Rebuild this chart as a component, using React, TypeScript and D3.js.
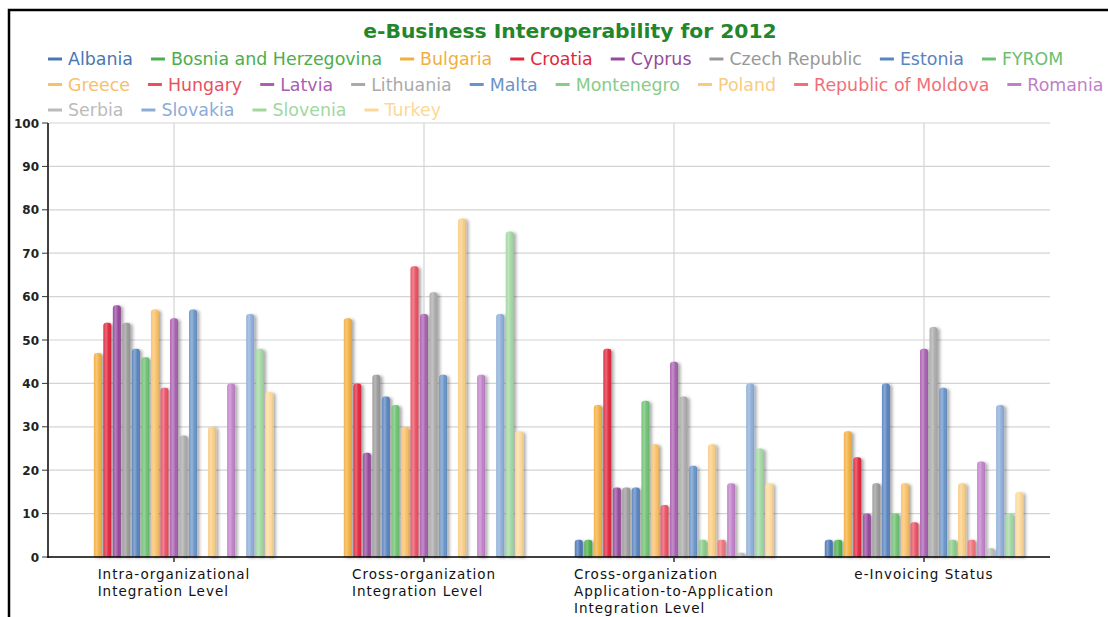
import React, { useEffect, useRef } from "react";
import * as d3 from "d3";

const title = "e-Business Interoperability for 2012";
const categories = [
  ["Intra-organizational", "Integration Level"],
  ["Cross-organization", "Integration Level"],
  ["Cross-organization", "Application-to-Application", "Integration Level"],
  ["e-Invoicing Status"],
];
const countries = [
  "Albania", "Bosnia and Herzegovina", "Bulgaria", "Croatia", "Cyprus", "Czech Republic", "Estonia", "FYROM",
  "Greece", "Hungary", "Latvia", "Lithuania", "Malta", "Montenegro", "Poland", "Republic of Moldova", "Romania",
  "Serbia", "Slovakia", "Slovenia", "Turkey",
];
const colors = [
  "#4a76b4", "#4cae4c", "#f3ae3e", "#e0283a", "#964a9c", "#999999", "#5884c0", "#6cc070",
  "#f8c068", "#e85060", "#a860b0", "#aaaaaa", "#6a94c8", "#88cc88", "#f8cc80", "#f07078", "#c080c8",
  "#bbbbbb", "#8cacd8", "#a0d8a0", "#fcd898",
];
// values per category, in country order (null = no bar)
const intraOrg = [null, null, 47, 54, 58, 54, 48, 46, 57, 39, 55, 28, 57, null, 30, null, 40, null, 56, 48, 38];
const crossOrg = [null, null, 55, 40, 24, 42, 37, 35, 30, 67, 56, 61, 42, null, 78, null, 42, null, 56, 75, 29];
const crossApp = [4, 4, 35, 48, 16, 16, 16, 36, 26, 12, 45, 37, 21, 4, 26, 4, 17, 1, 40, 25, 17];
const eInvoicing = [4, 4, 29, 23, 10, 17, 40, 10, 17, 8, 48, 53, 39, 4, 17, 4, 22, 2, 35, 10, 15];
const seriesByCategory = [intraOrg, crossOrg, crossApp, eInvoicing];
const yTicks = [0, 10, 20, 30, 40, 50, 60, 70, 80, 90, 100];
const legendRowBreaks = [8, 17];

export default function App() {
  const ref = useRef<SVGSVGElement>(null);
  useEffect(() => {
    const svg = d3.select(ref.current);
    svg.selectAll("*").remove();
    const W = 1108, H = 617;
    const left = 49, right = 1049, top = 123, bottom = 557;

    const defs = svg.append("defs");
    const f = defs.append("filter").attr("id", "sh").attr("x", "-50%").attr("y", "-10%").attr("width", "250%").attr("height", "120%");
    f.append("feDropShadow").attr("dx", 2.5).attr("dy", 1).attr("stdDeviation", 1.8).attr("flood-color", "#000").attr("flood-opacity", 0.33);
    const g = defs.append("linearGradient").attr("id", "gl").attr("x1", 0).attr("x2", 1).attr("y1", 0).attr("y2", 0);
    g.append("stop").attr("offset", "0").attr("stop-color", "#fff").attr("stop-opacity", 0.05);
    g.append("stop").attr("offset", "0.35").attr("stop-color", "#fff").attr("stop-opacity", 0.3);
    g.append("stop").attr("offset", "0.7").attr("stop-color", "#fff").attr("stop-opacity", 0);
    g.append("stop").attr("offset", "1").attr("stop-color", "#000").attr("stop-opacity", 0.12);

    svg.append("rect").attr("width", W).attr("height", H).attr("fill", "#fff");
    // frame
    svg.append("rect").attr("x", 9).attr("y", 10).attr("width", 1200).attr("height", 800)
      .attr("fill", "none").attr("stroke", "#000").attr("stroke-width", 2.5);

    const x0 = d3.scaleBand<number>().domain(d3.range(categories.length)).range([left, right]).paddingInner(0.2).paddingOuter(0.1);
    const x1 = d3.scaleBand<number>().domain(d3.range(countries.length)).range([0, x0.bandwidth()]);
    const y = d3.scaleLinear().domain([0, 100]).range([bottom, top]);

    // grid
    svg.append("g").selectAll("line").data(yTicks.filter((t) => t > 0)).join("line")
      .attr("x1", left).attr("x2", right + 1).attr("y1", (d) => y(d)).attr("y2", (d) => y(d))
      .attr("stroke", "#d4d4d4").attr("stroke-width", 1.2);
    svg.append("g").selectAll("line").data(d3.range(categories.length)).join("line")
      .attr("x1", (d) => x0(d)! + x0.bandwidth() / 2).attr("x2", (d) => x0(d)! + x0.bandwidth() / 2)
      .attr("y1", top).attr("y2", bottom).attr("stroke", "#d4d4d4").attr("stroke-width", 1.2);

    // bars
    const bw = 8, r = 3;
    const barPath = (x: number, yt: number) => {
      const h = bottom - yt;
      const rr = Math.min(r, h / 2);
      return `M${x},${bottom}V${yt + rr}Q${x},${yt} ${x + rr},${yt}H${x + bw - rr}Q${x + bw},${yt} ${x + bw},${yt + rr}V${bottom}Z`;
    };
    const barData: { c: number; s: number; v: number }[] = [];
    seriesByCategory.forEach((arr, c) => arr.forEach((v, s) => { if (v != null && v > 0) barData.push({ c, s, v }); }));
    const bars = svg.append("g");
    const bx = (d: { c: number; s: number }) => x0(d.c)! + x1(d.s)! + (x1.bandwidth() - bw) / 2;
    bars.selectAll("path.b").data(barData).join("path").attr("class", "b")
      .attr("d", (d) => barPath(bx(d), y(d.v))).attr("fill", (d) => colors[d.s]).attr("filter", "url(#sh)");
    bars.selectAll("path.o").data(barData).join("path").attr("class", "o")
      .attr("d", (d) => barPath(bx(d), y(d.v))).attr("fill", "url(#gl)");

    // axes
    svg.append("line").attr("x1", 48).attr("x2", 48).attr("y1", top).attr("y2", bottom + 1).attr("stroke", "#000").attr("stroke-width", 1.5);
    svg.append("line").attr("x1", 47).attr("x2", right + 1).attr("y1", bottom).attr("y2", bottom).attr("stroke", "#000").attr("stroke-width", 1.5);
    const yt = svg.append("g");
    yt.selectAll("line").data(yTicks).join("line").attr("x1", 42).attr("x2", 48)
      .attr("y1", (d) => y(d)).attr("y2", (d) => y(d)).attr("stroke", "#333");
    yt.selectAll("text").data(yTicks).join("text").attr("x", 39).attr("y", (d) => y(d) + 4.5)
      .attr("text-anchor", "end").attr("font-family", "DejaVu Sans").attr("font-weight", "bold").attr("font-size", 12)
      .attr("fill", "#222").text((d) => String(d));
    svg.append("g").selectAll("line").data(d3.range(categories.length)).join("line")
      .attr("x1", (d) => x0(d)! + x0.bandwidth() / 2).attr("x2", (d) => x0(d)! + x0.bandwidth() / 2)
      .attr("y1", bottom).attr("y2", bottom + 5).attr("stroke", "#333").attr("stroke-width", 1.5);

    // category labels
    categories.forEach((lines, c) => {
      const cx = x0(c)! + x0.bandwidth() / 2;
      const gg = svg.append("g");
      const texts = gg.selectAll("text").data(lines).join("text")
        .attr("y", (_d, i) => 579 + i * 17).attr("font-family", "DejaVu Sans").attr("font-size", 13.5)
        .attr("letter-spacing", 1.0).attr("fill", "#111").text((d) => d);
      let maxW = 0;
      texts.each(function () { maxW = Math.max(maxW, (this as SVGTextElement).getComputedTextLength()); });
      texts.attr("x", cx - maxW / 2);
    });

    // title
    svg.append("text").attr("x", 570).attr("y", 38).attr("text-anchor", "middle")
      .attr("font-family", "DejaVu Sans").attr("font-weight", "bold").attr("font-size", 20.3)
      .attr("fill", "#24862a").text(title);

    // legend
    const lg = svg.append("g");
    let lx = 48, row = 0;
    countries.forEach((name, i) => {
      if (legendRowBreaks.includes(i)) { row++; lx = 48; }
      const ly = 59 + row * 25.5;
      lg.append("line").attr("x1", lx).attr("x2", lx + 14).attr("y1", ly).attr("y2", ly)
        .attr("stroke", colors[i]).attr("stroke-width", 3);
      const t = lg.append("text").attr("x", lx + 20).attr("y", ly + 6).attr("font-family", "DejaVu Sans")
        .attr("font-size", 17.4).attr("fill", colors[i]).text(name);
      const w = (t.node() as SVGTextElement).getComputedTextLength();
      lx += 20 + w + 18;
    });
  }, []);
  return (
    <svg ref={ref} width={1108} height={617} style={{ position: "absolute", left: 0, top: 0 }} />
  );
}
